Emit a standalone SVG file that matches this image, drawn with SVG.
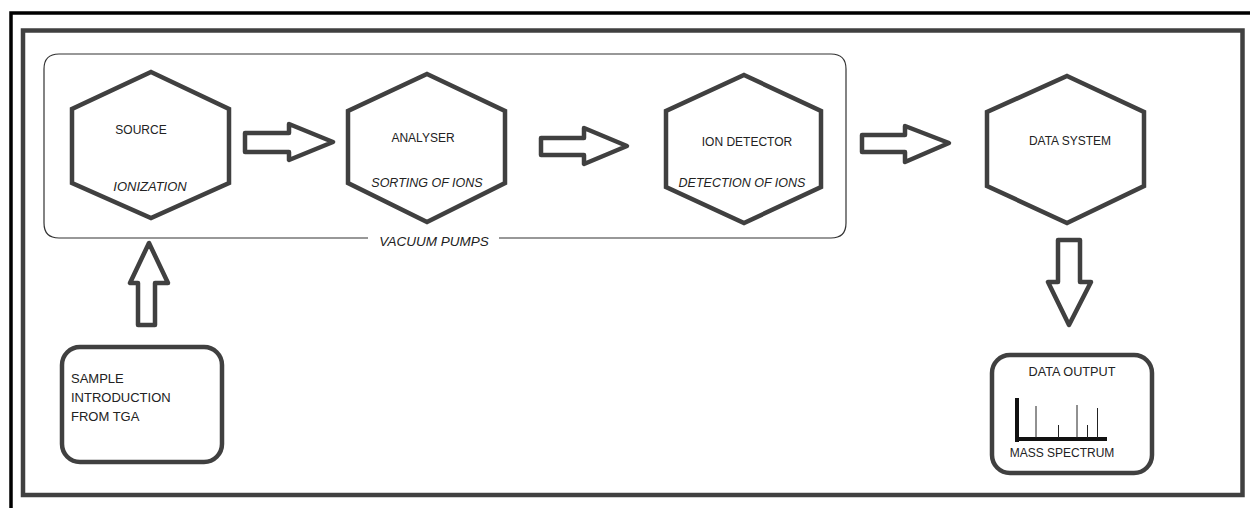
<svg xmlns="http://www.w3.org/2000/svg" width="1250" height="508" viewBox="0 0 1250 508">
  <style>
    .hex { fill: #ffffff; stroke: #404040; stroke-width: 4.5; stroke-linejoin: miter; }
    .arrow { fill: #ffffff; stroke: #404040; stroke-width: 4.5; stroke-linejoin: round; }
    .box { fill: #ffffff; stroke: #404040; stroke-width: 4.5; }
    .lbl { font-family: "Liberation Sans", Arial, sans-serif; font-size: 12px; fill: #222222; }
    .sub { font-family: "Liberation Sans", Arial, sans-serif; font-size: 12.5px; font-style: italic; fill: #222222; }
    .mid { text-anchor: middle; }
  </style>

  <rect x="0" y="0" width="1250" height="508" fill="#ffffff"/>

  <!-- outer black frame (runs off the right and bottom edges) -->
  <rect x="11" y="13" width="1270" height="520" fill="none" stroke="#000000" stroke-width="3.5"/>
  <!-- inner grey frame -->
  <rect x="23" y="30.5" width="1219.5" height="464.5" fill="#ffffff" stroke="#404040" stroke-width="4.5"/>

  <!-- vacuum enclosure, open at the bottom where its label sits -->
  <g id="vacuum">
    <path d="M368,238 H59 Q44,238 44,223 V69 Q44,54 59,54 H831 Q846,54 846,69 V223 Q846,238 831,238 H499" fill="none" stroke="#333333" stroke-width="1.2"/>
    <text class="sub mid" x="434" y="246" style="font-size:13.5px">VACUUM PUMPS</text>
  </g>

  <g id="source">
    <polygon class="hex" points="151,72 229,109 229,183 151,218 72,183 72,109"/>
    <text class="lbl mid" x="141" y="134">SOURCE</text>
    <text class="sub mid" x="150" y="191" style="font-size:13px">IONIZATION</text>
  </g>

  <g id="analyser">
    <polygon class="hex" points="427,74 505,111 505,183 427,222 348,183 348,111"/>
    <text class="lbl mid" x="423" y="142">ANALYSER</text>
    <text class="sub mid" x="427" y="187">SORTING OF IONS</text>
  </g>

  <g id="ion-detector">
    <polygon class="hex" points="744,75 821,111 821,187 744,223 666,187 666,111"/>
    <text class="lbl mid" x="747" y="146">ION DETECTOR</text>
    <text class="sub mid" x="742" y="187">DETECTION OF IONS</text>
  </g>

  <g id="data-system">
    <polygon class="hex" points="1067,76 1144,112 1144,186 1067,223 987,186 987,112"/>
    <text class="lbl mid" x="1070" y="145">DATA SYSTEM</text>
  </g>

  <g id="sample">
    <rect class="box" x="62" y="347" width="160" height="115" rx="18" ry="18"/>
    <text class="lbl" x="71" y="383" style="font-size:13px">SAMPLE</text>
    <text class="lbl" x="71" y="402" style="font-size:13px">INTRODUCTION</text>
    <text class="lbl" x="71" y="421" style="font-size:13px">FROM TGA</text>
  </g>

  <g id="data-output">
    <rect class="box" x="992" y="355" width="160" height="118" rx="18" ry="18"/>
    <text class="lbl mid" x="1072" y="376" style="font-size:12.7px">DATA OUTPUT</text>
    <!-- spectrum axes and peaks -->
    <g fill="#111111">
      <rect x="1015" y="398" width="4" height="44"/>
      <rect x="1015" y="437" width="92" height="4"/>
    </g>
    <g stroke="#222222" stroke-width="1">
      <line x1="1036" y1="406" x2="1036" y2="438"/>
      <line x1="1058.5" y1="425" x2="1058.5" y2="438"/>
      <line x1="1077" y1="405" x2="1077" y2="438"/>
      <line x1="1087.5" y1="425" x2="1087.5" y2="438"/>
      <line x1="1097.5" y1="408" x2="1097.5" y2="438"/>
    </g>
    <text class="lbl mid" x="1062" y="457">MASS SPECTRUM</text>
  </g>

  <g id="connectors">
    <polygon class="arrow" points="245,133 289,133 289,124 333,142 289,160 289,152 245,152"/>
    <polygon class="arrow" points="541,138 584,138 584,128 627,146 584,164 584,155 541,155"/>
    <polygon class="arrow" points="862,135 905,135 905,126 949,143 905,162 905,152 862,152"/>
    <polygon class="arrow" points="1058,240 1080,240 1080,282 1091,282 1069,325 1048,282 1058,282"/>
    <polygon class="arrow" points="138,325 155,325 155,283 168,283 149,243 130,283 138,283"/>
  </g>
</svg>
